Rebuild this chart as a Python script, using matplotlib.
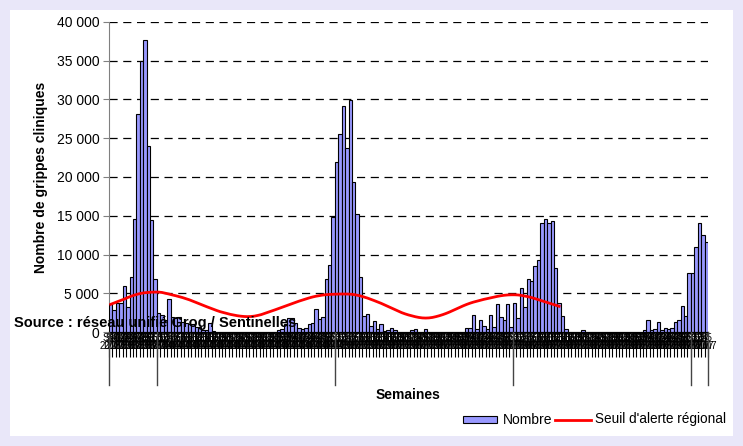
import numpy as np
import matplotlib
matplotlib.use("Agg")
import matplotlib.pyplot as plt
import matplotlib.transforms as mtransforms
from matplotlib.patches import Rectangle
from matplotlib.lines import Line2D

plt.rcParams['font.family'] = ['Liberation Sans', 'DejaVu Sans']

# ---- data (thousands of cases per week) ----
nombre_k = [
    3.6, 2.9, 3.7, 3.8, 5.9, 3.2, 7.1, 14.6, 28.1, 35.0, 37.7, 24.0, 14.5, 6.8,
    2.5, 2.2, 1.5, 4.3, 2.0, 1.8, 1.9, 1.3, 1.1, 1.0, 1.0, 0.7, 0.6, 0.3, 0.2, 1.1,
    0.1, 0.0, 0.0, 0.0, 0.0, 0.0, 0.0, 0.0, 0.0, 0.0, 0.0, 0.0, 0.0, 0.0, 0.0, 0.0,
    0.0, 0.0, 0.0, 0.3, 0.4, 1.0, 1.8, 1.8, 1.2, 0.5, 0.4, 0.5, 1.0, 1.1, 3.0, 1.7,
    1.9, 6.8, 8.7, 14.9,
    21.9, 25.6, 29.1, 23.7, 29.9, 19.3, 15.2, 7.1, 2.1, 2.3, 0.8, 1.4, 0.4, 1.0,
    0.1, 0.3, 0.5, 0.2, 0.0, 0.0, 0.0, 0.0, 0.2, 0.4, 0.0, 0.0, 0.4, 0.0, 0.0, 0.0,
    0.0, 0.0, 0.0, 0.0, 0.0, 0.0, 0.0, 0.0, 0.5, 0.5, 2.2, 0.4, 1.5, 0.8, 0.4, 2.2,
    0.6, 3.6, 2.0, 1.6, 3.6, 0.7,
    3.8, 1.8, 5.7, 3.2, 6.9, 6.6, 8.5, 9.3, 14.0, 14.6, 14.0, 14.3, 8.3, 3.8, 2.1,
    0.4, 0.0, 0.0, 0.0, 0.0, 0.3, 0.0, 0.0, 0.0, 0.0, 0.0, 0.0, 0.0, 0.0, 0.0, 0.0,
    0.0, 0.0, 0.0, 0.0, 0.0, 0.0, 0.0, 0.2, 1.5, 0.2, 0.4, 1.3, 0.3, 0.5, 0.4, 0.5,
    1.3, 1.6, 3.3, 2.1, 7.6,
    7.6, 11.0, 14.1, 12.5, 11.6,
]

seuil_k = [
    3.57, 3.75, 3.92, 4.08, 4.25, 4.45, 4.62, 4.77, 4.90, 5.00, 5.07, 5.11, 5.14, 5.15,
    5.15, 5.10, 5.00, 4.90, 4.78, 4.68, 4.56, 4.44, 4.30, 4.15, 3.98, 3.80, 3.62, 3.44,
    3.27, 3.10, 2.93, 2.77, 2.62, 2.50, 2.38, 2.27, 2.18, 2.10, 2.04, 2.00, 1.98, 2.00,
    2.05, 2.14, 2.25, 2.40, 2.55, 2.70, 2.86, 3.02, 3.18, 3.34, 3.50, 3.66, 3.82, 3.98,
    4.12, 4.26, 4.40, 4.52, 4.62, 4.70, 4.77, 4.82, 4.85, 4.87, 4.89, 4.90, 4.90, 4.90,
    4.88, 4.83, 4.75, 4.65, 4.52, 4.38, 4.22, 4.05, 3.88, 3.70, 3.50, 3.30, 3.10, 2.90,
    2.70, 2.50, 2.34, 2.20, 2.08, 1.97, 1.88, 1.82, 1.80, 1.82, 1.88, 1.98, 2.10, 2.24,
    2.40, 2.58, 2.78, 2.98, 3.18, 3.38, 3.56, 3.72, 3.86, 3.98, 4.10, 4.21, 4.31, 4.40,
    4.50, 4.60, 4.68, 4.74, 4.78, 4.80, 4.80, 4.78, 4.72, 4.64, 4.55, 4.44, 4.30, 4.16,
    4.02, 3.88, 3.74, 3.60, 3.46, 3.32,
]

group_years = [2003, 2004, 2005, 2006, 2007]
group_sizes = [14, 52, 52, 52, 5]
group_first_week = [40, 1, 1, 1, 1]

y_ticks = [0, 5000, 10000, 15000, 20000, 25000, 30000, 35000, 40000]

# ---- derived ----
nombre = np.array(nombre_k) * 1000
seuil = np.array(seuil_k) * 1000
x = np.arange(len(nombre))
xs = np.arange(len(seuil))

week_labels = []
for yr, n, w0 in zip(group_years, group_sizes, group_first_week):
    for k in range(n):
        week_labels.append(f"S{w0 + k}\n{yr}")
week_labels = week_labels[:len(nombre)]

W, H = 743, 446
fig = plt.figure(figsize=(W / 100, H / 100), dpi=100)
fig.patch.set_facecolor('#E9E7F9')
fig.patches.append(Rectangle((10 / W, 10 / H), (W - 20) / W, (H - 20) / H,
                             transform=fig.transFigure, facecolor='white',
                             edgecolor='none', zorder=-10))

ax = fig.add_axes([109 / W, (H - 332) / H, 599 / W, 310 / H])
ax.set_facecolor('none')
ax.set_zorder(2)

ax.bar(x, nombre, width=1.0, color='#9999FF', edgecolor='black', linewidth=0.8, zorder=3)
ax.plot(xs, seuil, color='#FF0000', linewidth=2.0, zorder=4)

ax.set_xlim(-0.5, len(nombre) - 0.5)
ax.set_ylim(0, 40000)

ax.set_yticks(y_ticks)
ax.set_yticklabels([f"{v:,}".replace(",", " ") for v in y_ticks], fontsize=10)
for v in y_ticks[1:]:
    ax.axhline(v, color='black', linewidth=0.9, linestyle=(0, (6.5, 4.5)), zorder=1)

for s in ['top', 'right']:
    ax.spines[s].set_visible(False)
ax.spines['left'].set_color('#808080')
ax.spines['bottom'].set_color('black')
ax.spines['bottom'].set_zorder(5)
ax.tick_params(axis='y', direction='out', length=4, color='#808080', pad=3)

ax.set_xticks(x)
ax.set_xticklabels(week_labels, fontsize=7, linespacing=0.8)
ax.set_xticks(np.arange(-0.5, len(nombre), 1.0), minor=True)
ax.tick_params(axis='x', which='major', length=0, pad=0.5)
ax.tick_params(axis='x', which='minor', length=18, width=0.8, color='black')

# year separators
trans = mtransforms.blended_transform_factory(ax.transData, ax.transAxes)
bounds = np.concatenate([[0], np.cumsum(group_sizes)]) - 0.5
for b in bounds:
    ax.plot([b, b], [-53 / 310, 0], transform=trans, color='#444444',
            linewidth=1.0, clip_on=False, zorder=6)

ax.set_ylabel('Nombre de grippes cliniques', fontsize=10, fontweight='bold', labelpad=6)
ax.set_xlabel('Semaines', fontsize=10, fontweight='bold', labelpad=19)

fig.text(14 / W, 1 - 327 / H, 'Source : réseau unifié Grog / Sentinelles',
         fontsize=10.5, fontweight='bold', va='baseline', ha='left', zorder=10)

# legend
fig.patches.append(Rectangle((463 / W, 1 - 423 / H), 34 / W, 7 / H,
                             transform=fig.transFigure, facecolor='#9999FF',
                             edgecolor='black', linewidth=0.8, zorder=5))
fig.text(503 / W, 1 - 419.5 / H, 'Nombre', fontsize=10, va='center', ha='left')
fig.lines.append(Line2D([555 / W, 591 / W], [1 - 419.5 / H, 1 - 419.5 / H],
                        transform=fig.transFigure, color='#FF0000', linewidth=2.0))
fig.text(595 / W, 1 - 419.5 / H, "Seuil d'alerte régional", fontsize=9.8,
         va='center', ha='left')

fig.savefig('out.png', dpi=100, facecolor=fig.get_facecolor())
